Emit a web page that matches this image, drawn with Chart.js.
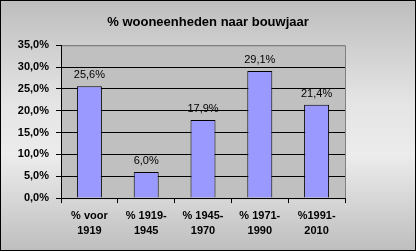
<!DOCTYPE html>
<html>
<head>
<meta charset="utf-8">
<script src="https://cdn.jsdelivr.net/npm/chart.js@4"></script>
<style>
  html, body { margin: 0; padding: 0; background: #fff; }
  #wrap { width: 416px; height: 251px; position: relative; }
</style>
</head>
<body>
<div id="wrap"><canvas id="bouwjaarChart" width="416" height="251"></canvas></div>
<script>
const categories = [
    ['% voor', '1919'],
    ['% 1919-', '1945'],
    ['% 1945-', '1970'],
    ['% 1971-', '1990'],
    ['%1991-', '2010']
];
const percentages = [25.6, 6.0, 17.9, 29.1, 21.4];
const yTicks = [0, 5, 10, 15, 20, 25, 30, 35];

function fmt(v) {
    return v.toFixed(1).replace('.', ',') + '%';
}

// achtergrond, plotvlak en rand
const backgroundPlugin = {
    id: 'excelBackground',
    beforeDraw(chart) {
        const { ctx, width, height, chartArea } = chart;
        ctx.save();
        const g = ctx.createLinearGradient(0, 0, 0, height);
        g.addColorStop(0, '#bdbdbd');
        g.addColorStop(0.4, '#e4e4e4');
        g.addColorStop(0.62, '#ececec');
        g.addColorStop(1, '#bebebe');
        ctx.fillStyle = g;
        ctx.fillRect(0, 0, width, height);
        ctx.fillStyle = '#c0c0c0';
        ctx.fillRect(chartArea.left, chartArea.top, chartArea.right - chartArea.left, chartArea.bottom - chartArea.top);
        ctx.strokeStyle = '#808080';
        ctx.lineWidth = 1;
        ctx.strokeRect(chartArea.left + 0.5, chartArea.top + 0.5, chartArea.right - chartArea.left, chartArea.bottom - chartArea.top);
        ctx.restore();
    },
    afterDraw(chart) {
        const { ctx, width, height } = chart;
        ctx.save();
        ctx.strokeStyle = '#000';
        ctx.lineWidth = 1;
        ctx.strokeRect(0.5, 0.5, width - 1, height - 1);
        ctx.restore();
    }
};

// waarden boven de staven
const labelPlugin = {
    id: 'barLabels',
    afterDatasetsDraw(chart) {
        const { ctx } = chart;
        const meta = chart.getDatasetMeta(0);
        ctx.save();
        ctx.font = '11px "Liberation Sans", Arial, sans-serif';
        ctx.fillStyle = '#000';
        ctx.textAlign = 'center';
        ctx.textBaseline = 'alphabetic';
        meta.data.forEach((bar, i) => {
            ctx.fillText(fmt(percentages[i]), bar.x, bar.y - 8);
        });
        ctx.restore();
    }
};

const ctx = document.getElementById('bouwjaarChart').getContext('2d');
const chart = new Chart(ctx, {
    type: 'bar',
    data: {
        labels: categories,
        datasets: [{
            data: percentages,
            backgroundColor: '#9999ff',
            borderColor: '#000000',
            borderWidth: 1,
            barPercentage: 0.44,
            categoryPercentage: 1
        }]
    },
    options: {
        responsive: false,
        animation: false,
        devicePixelRatio: 1,
        layout: {
            padding: { left: 0, right: 0, top: 0, bottom: 8 }
        },
        scales: {
            x: {
                offset: true,
                grid: {
                    offset: true,
                    drawOnChartArea: false,
                    drawTicks: true,
                    tickLength: 5,
                    color: '#000'
                },
                border: { color: '#000', width: 1 },
                ticks: {
                    color: '#000',
                    padding: 5,
                    maxRotation: 0,
                    font: { family: '"Liberation Sans", Arial, sans-serif', size: 11, weight: 'bold', lineHeight: 1.36 }
                }
            },
            y: {
                min: 0,
                max: 35,
                afterFit(scale) { scale.width = 61; },
                afterBuildTicks(scale) { scale.ticks = yTicks.map(v => ({ value: v })); },
                grid: {
                    color: c => (c.tick && c.tick.value === 35 ? '#808080' : '#000'),
                    tickColor: '#000',
                    drawTicks: true,
                    tickLength: 5
                },
                border: { color: '#000', width: 1 },
                ticks: {
                    color: '#000',
                    padding: 7,
                    callback: v => fmt(v),
                    font: { family: '"Liberation Sans", Arial, sans-serif', size: 11, weight: 'bold' }
                }
            },
            // lege as rechts, houdt ruimte vrij zodat de titel over de hele breedte centreert
            yRight: {
                position: 'right',
                min: 0,
                max: 35,
                afterFit(scale) { scale.width = 71; },
                grid: { display: false },
                border: { display: false },
                ticks: { display: false }
            }
        },
        plugins: {
            legend: { display: false },
            tooltip: { enabled: false },
            title: {
                display: true,
                text: '% wooneenheden naar bouwjaar',
                color: '#000',
                font: { family: '"Liberation Sans", Arial, sans-serif', size: 13, weight: 'bold', lineHeight: 1.1 },
                padding: { top: 15, bottom: 16 }
            }
        }
    },
    plugins: [backgroundPlugin, labelPlugin]
});
</script>
</body>
</html>
